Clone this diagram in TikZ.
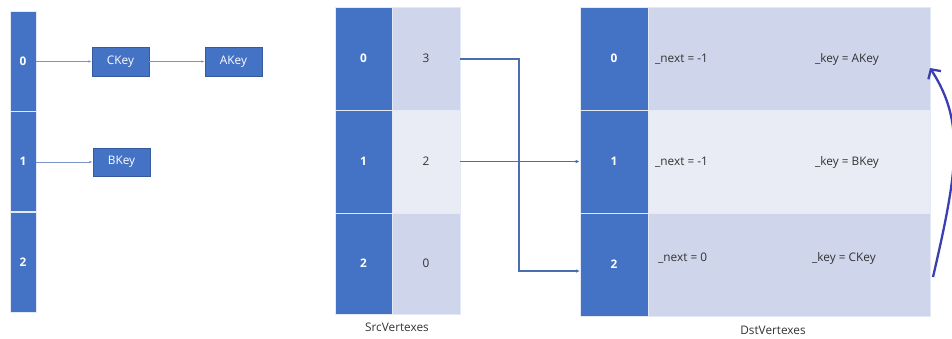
\documentclass[tikz,border=0pt]{standalone}
\usepackage{fontspec}
\setmainfont{Open Sans}
\usetikzlibrary{arrows.meta}
\definecolor{darkb}{HTML}{4472C4}
\definecolor{lightb}{HTML}{CFD5EA}
\definecolor{paleb}{HTML}{E9EBF5}
\definecolor{linkb}{HTML}{4A6EB0}
\definecolor{thinb}{HTML}{7A93C4}
\definecolor{indig}{HTML}{3B3FB0}
\tikzset{
  fnt/.style={font=\fontsize{11.8}{13}\selectfont},
  cell/.style={draw=white!85!darkb, line width=0.6pt, inner sep=0pt, fnt},
  darkcell/.style={cell, fill=darkb, text=white, font=\fontsize{11.8}{13}\selectfont\bfseries},
  lightcell/.style={cell, fill=lightb, text=black!80},
  palecell/.style={cell, fill=paleb, text=black!80},
  keybox/.style={draw=darkb!80!black, fill=darkb, text=white, inner sep=0pt, minimum width=57pt, minimum height=29pt, fnt},
  txt/.style={anchor=west, inner sep=0pt, text=black!80, fnt},
  caption/.style={inner sep=0pt, text=black!80, fnt},
  thinarrow/.style={draw=thinb, line width=0.7pt, -{Latex[length=3.5pt,width=2.5pt]}},
  linkarrow/.style={draw=linkb, line width=1.4pt, -{Latex[length=4pt,width=3.5pt]}},
  bigarrow/.style={draw=indig, line width=2.3pt, -{Straight Barb[length=7pt,width=15pt]}},
}
\begin{document}
\begin{tikzpicture}[x=1pt,y=-1pt]
\useasboundingbox (0,0) rectangle (952,338);
% left hash buckets
\node[darkcell, minimum width=26pt, minimum height=100pt] (L0) at (23,61) {0};
\node[darkcell, minimum width=26pt, minimum height=100pt] (L1) at (23,161.5) {1};
\node[darkcell, minimum width=26pt, minimum height=100pt] (L2) at (23,262) {2};
\node[keybox] (CK) at (120.5,61.5) {CKey};
\node[keybox] (AK) at (233.5,61.5) {AKey};
\node[keybox, minimum height=28pt] (BK) at (121.5,162) {BKey};
\draw[thinarrow] (L0.east |- CK.west) -- (CK.west);
\draw[thinarrow] (CK.east) -- (AK.west);
\draw[thinarrow] (L1.east |- BK.west) -- (BK.west);
% SrcVertexes
\node[darkcell, minimum width=57pt, minimum height=103pt] (S0) at (363.5,58.5) {0};
\node[darkcell, minimum width=57pt, minimum height=103pt] (S1) at (363.5,161.5) {1};
\node[darkcell, minimum width=57pt, minimum height=101pt] (S2) at (363.5,263.5) {2};
\node[lightcell, minimum width=68pt, minimum height=103pt] (V0) at (426,58.5) {3};
\node[palecell, minimum width=68pt, minimum height=103pt] (V1) at (426,161.5) {2};
\node[lightcell, minimum width=68pt, minimum height=101pt] (V2) at (426,263.5) {0};
\node[caption] (SL) at (397,327) {SrcVertexes};
% DstVertexes
\node[darkcell, minimum width=68pt, minimum height=103pt] (D0) at (614,58.5) {0};
\node[darkcell, minimum width=68pt, minimum height=103pt] (D1) at (614,161.5) {1};
\node[darkcell, minimum width=68pt, minimum height=103pt] (D2) at (614,264.5) {2};
\node[lightcell, minimum width=282pt, minimum height=103pt] (E0) at (789,58.5) {};
\node[palecell, minimum width=282pt, minimum height=103pt] (E1) at (789,161.5) {};
\node[lightcell, minimum width=282pt, minimum height=103pt] (E2) at (789,264.5) {};
\node[txt] (n0) at (655,59) {\_next = -1};
\node[txt] (k0) at (815,59) {\_key = AKey};
\node[txt] (n1) at (655,162) {\_next = -1};
\node[txt] (k1) at (815,162) {\_key = BKey};
\node[txt] (n2) at (658,258) {\_next = 0};
\node[txt] (k2) at (812,258) {\_key = CKey};
\node[caption] (DL) at (773,330) {DstVertexes};
% links
\coordinate (bendA) at (519,59);
\coordinate (endA) at (580,271);
\draw[linkarrow] (V0.east |- bendA) -- (bendA) |- (endA);
\draw[linkarrow] (V1.east) -- (D1.west);
\coordinate (curveS) at (933,277);
\coordinate (curveE) at (930,68);
\draw[bigarrow] (curveS) .. controls (958,169) and (965,122) .. (curveE);
\end{tikzpicture}
\end{document}
